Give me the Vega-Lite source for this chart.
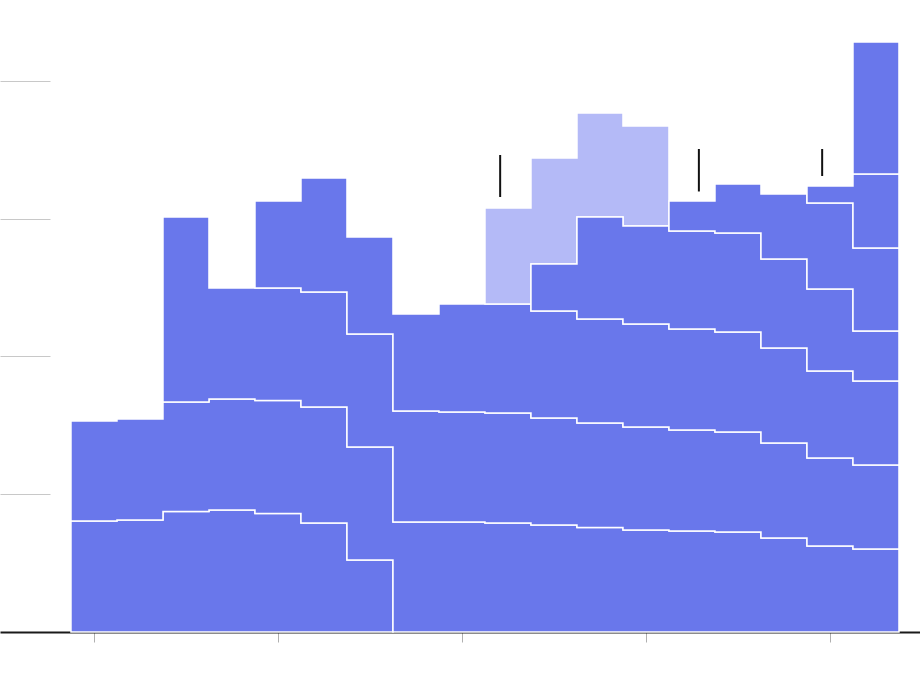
{
  "$schema": "https://vega.github.io/schema/vega-lite/v6.json",
  "width": 920,
  "height": 632,
  "padding": {"left": 0, "top": 0, "right": 0, "bottom": 62},
  "autosize": {"type": "none"},
  "background": "white",
  "config": {
    "view": {"stroke": null},
    "axisX": {"labels": false, "grid": false, "domainColor": "#1a1a1a", "domainWidth": 2, "tickColor": "#b0b0b0", "tickSize": 10, "tickWidth": 1, "zindex": 1},
    "axisY": {"labels": false, "grid": false, "domain": false, "tickColor": "#c8c8c8", "tickSize": 50, "tickWidth": 1, "offset": -50}
  },
  "datasets": {
    "bars": [
      {"year": 2006, "s": "A", "v": 16.12}, {"year": 2006, "s": "B", "v": 14.52},
      {"year": 2007, "s": "A", "v": 16.26}, {"year": 2007, "s": "B", "v": 14.66},
      {"year": 2008, "s": "A", "v": 17.50}, {"year": 2008, "s": "B", "v": 15.90}, {"year": 2008, "s": "C", "v": 26.86},
      {"year": 2009, "s": "A", "v": 17.71}, {"year": 2009, "s": "B", "v": 16.12}, {"year": 2009, "s": "C", "v": 16.12},
      {"year": 2010, "s": "A", "v": 17.21}, {"year": 2010, "s": "B", "v": 16.41}, {"year": 2010, "s": "C", "v": 16.33}, {"year": 2010, "s": "D", "v": 12.63},
      {"year": 2011, "s": "A", "v": 15.83}, {"year": 2011, "s": "B", "v": 16.84}, {"year": 2011, "s": "C", "v": 16.70}, {"year": 2011, "s": "D", "v": 16.55},
      {"year": 2012, "s": "A", "v": 10.45}, {"year": 2012, "s": "B", "v": 16.41}, {"year": 2012, "s": "C", "v": 16.41}, {"year": 2012, "s": "D", "v": 14.08},
      {"year": 2013, "s": "B", "v": 15.97}, {"year": 2013, "s": "C", "v": 16.12}, {"year": 2013, "s": "D", "v": 14.08},
      {"year": 2014, "s": "B", "v": 15.97}, {"year": 2014, "s": "C", "v": 15.97}, {"year": 2014, "s": "D", "v": 15.68},
      {"year": 2015, "s": "B", "v": 15.83}, {"year": 2015, "s": "C", "v": 15.97}, {"year": 2015, "s": "D", "v": 15.83}, {"year": 2015, "s": "L", "v": 13.94},
      {"year": 2016, "s": "B", "v": 15.54}, {"year": 2016, "s": "C", "v": 15.54}, {"year": 2016, "s": "D", "v": 15.54}, {"year": 2016, "s": "E", "v": 6.82}, {"year": 2016, "s": "L", "v": 15.39},
      {"year": 2017, "s": "B", "v": 15.17}, {"year": 2017, "s": "C", "v": 15.17}, {"year": 2017, "s": "D", "v": 15.10}, {"year": 2017, "s": "E", "v": 14.81}, {"year": 2017, "s": "L", "v": 15.10},
      {"year": 2018, "s": "B", "v": 14.81}, {"year": 2018, "s": "C", "v": 14.95}, {"year": 2018, "s": "D", "v": 14.95}, {"year": 2018, "s": "E", "v": 14.23}, {"year": 2018, "s": "L", "v": 14.52},
      {"year": 2019, "s": "B", "v": 14.66}, {"year": 2019, "s": "C", "v": 14.66}, {"year": 2019, "s": "D", "v": 14.66}, {"year": 2019, "s": "E", "v": 14.23}, {"year": 2019, "s": "F", "v": 4.36},
      {"year": 2020, "s": "B", "v": 14.52}, {"year": 2020, "s": "C", "v": 14.52}, {"year": 2020, "s": "D", "v": 14.52}, {"year": 2020, "s": "E", "v": 14.37}, {"year": 2020, "s": "F", "v": 7.11},
      {"year": 2021, "s": "B", "v": 13.65}, {"year": 2021, "s": "C", "v": 13.79}, {"year": 2021, "s": "D", "v": 13.79}, {"year": 2021, "s": "E", "v": 12.92}, {"year": 2021, "s": "F", "v": 9.44},
      {"year": 2022, "s": "B", "v": 12.49}, {"year": 2022, "s": "C", "v": 12.78}, {"year": 2022, "s": "D", "v": 12.63}, {"year": 2022, "s": "E", "v": 11.91}, {"year": 2022, "s": "F", "v": 12.49}, {"year": 2022, "s": "G", "v": 2.47},
      {"year": 2023, "s": "B", "v": 12.05}, {"year": 2023, "s": "C", "v": 12.20}, {"year": 2023, "s": "D", "v": 12.20}, {"year": 2023, "s": "E", "v": 7.26}, {"year": 2023, "s": "F", "v": 12.05}, {"year": 2023, "s": "G", "v": 10.74}, {"year": 2023, "s": "H", "v": 19.17}
    ],
    "marks": [
      {"x": 2014.83, "lo": 63.16, "hi": 69.26},
      {"x": 2019.15, "lo": 63.96, "hi": 70.13},
      {"x": 2021.83, "lo": 66.21, "hi": 70.13}
    ]
  },
  "layer": [
    {
      "data": {"name": "bars"},
      "transform": [
        {"stack": "v", "groupby": ["year"], "sort": [{"field": "s", "order": "ascending"}], "as": ["v0", "v1"]},
        {"bin": {"step": 1, "anchor": 0.5, "extent": [2005, 2024]}, "field": "year", "as": ["x0", "x1"]},
        {"fold": ["x0", "x1"], "as": ["edge", "xe"]}
      ],
      "mark": {"type": "area", "stroke": "white", "strokeWidth": 1.5, "interpolate": "linear", "fillOpacity": 1},
      "encoding": {
        "x": {
          "field": "xe", "type": "quantitative",
          "scale": {"domain": [2003.957, 2023.957], "nice": false, "zero": false},
          "axis": {"values": [2006, 2010, 2014, 2018, 2022], "title": null}
        },
        "y": {
          "field": "v1", "type": "quantitative",
          "scale": {"domain": [0, 91.76], "nice": false},
          "axis": {"values": [20, 40, 60, 80], "title": null}
        },
        "y2": {"field": "v0"},
        "color": {
          "field": "s", "type": "nominal",
          "scale": {"domain": ["A", "B", "C", "D", "E", "F", "G", "H", "L"], "range": ["#6977eb", "#6977eb", "#6977eb", "#6977eb", "#6977eb", "#6977eb", "#6977eb", "#6977eb", "#b4baf7"]},
          "legend": null
        },
        "order": [{"field": "year", "type": "quantitative"}, {"field": "edge", "type": "nominal"}]
      }
    },
    {
      "data": {"name": "marks"},
      "mark": {"type": "rule", "color": "#111111", "strokeWidth": 2},
      "encoding": {
        "x": {"field": "x", "type": "quantitative", "scale": {"domain": [2003.957, 2023.957], "nice": false, "zero": false},
          "axis": {"values": [2006, 2010, 2014, 2018, 2022], "title": null}},
        "y": {"field": "hi", "type": "quantitative", "scale": {"domain": [0, 91.76], "nice": false},
          "axis": {"values": [20, 40, 60, 80], "title": null}},
        "y2": {"field": "lo"}
      }
    }
  ]
}
